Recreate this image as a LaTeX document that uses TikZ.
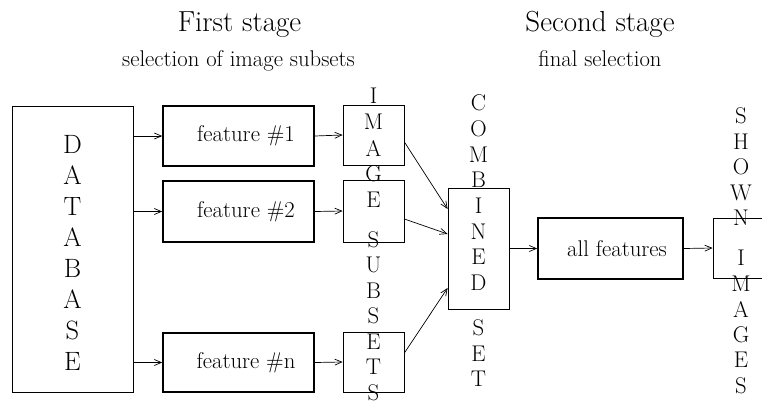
\documentclass[tikz,border=0pt]{standalone}
\usetikzlibrary{arrows.meta}
\begin{document}
\begin{tikzpicture}[x=1pt,y=-1pt,
  thinbox/.style={draw,line width=0.8pt,inner sep=0pt},
  thickbox/.style={draw,line width=1.6pt,inner sep=0pt,font=\fontsize{22.7}{27}\selectfont},
  arr/.style={line width=0.7pt,-{Straight Barb[length=7pt,width=6pt]}},
  vl/.style={inner sep=0pt,font=\fontsize{22.7}{27}\selectfont},
  dbl/.style={inner sep=0pt,font=\fontsize{26.5}{32}\selectfont},
  titlef/.style={anchor=base,inner sep=0pt,font=\fontsize{29}{35}\selectfont},
  subf/.style={anchor=base,inner sep=0pt,font=\fontsize{22.7}{27}\selectfont}]
\clip (0,0) rectangle (762,405);
\useasboundingbox (0,0) rectangle (762,405);

% titles
\node[titlef] (t1) at (239.5,31) {First stage};
\node[subf] (st1) at (238.5,66) {selection of image subsets};
\node[titlef] (t2) at (600,31) {Second stage};
\node[subf] (st2) at (600,66) {final selection};

% boxes
\node[thinbox,minimum width=121pt,minimum height=286pt] (db) at (72.5,249) {};
\node[thickbox,minimum width=151pt,minimum height=60pt] (f1) at (238.5,136) {\hspace*{15pt}feature \#1};
\node[thickbox,minimum width=151pt,minimum height=61pt] (f2) at (238.5,211.5) {\hspace*{15pt}feature \#2};
\node[thickbox,minimum width=151pt,minimum height=59pt] (fn) at (238.5,362.5) {\hspace*{15pt}feature \#n};
\node[thinbox,minimum width=61pt,minimum height=60pt] (s1) at (373.5,135) {};
\node[thinbox,minimum width=61pt,minimum height=62pt] (s2) at (373.5,211) {};
\node[thinbox,minimum width=61pt,minimum height=60pt] (s3) at (373.5,362) {};
\node[thinbox,minimum width=61pt,minimum height=121pt] (comb) at (478.5,248.5) {};
\node[thickbox,minimum width=145pt,minimum height=61pt] (all) at (610.5,248.5) {\hspace*{13pt}all features};
\node[thinbox,minimum width=90pt,minimum height=60pt] (shown) at (758,248) {};

% vertical texts
\foreach \l [count=\i from 0] in {D,A,T,A,B,A,S,E}
  \node[dbl] (db-\i) at (72.5,{144+31.1*\i}) {\l};
\foreach \l [count=\i from 0] in {I,M,A,G,E}
  \node[vl] (im-\i) at (373.5,{96+26*\i}) {\l};
\foreach \l [count=\i from 0] in {S,U,B,S,E,T,S}
  \node[vl] (su-\i) at (373.5,{240+25.4*\i}) {\l};
\foreach \l [count=\i from 0] in {C,O,M,B,I,N,E,D}
  \node[vl] (co-\i) at (478.5,{103+25.7*\i}) {\l};
\foreach \l [count=\i from 0] in {S,E,T}
  \node[vl] (se-\i) at (478.5,{328+25.5*\i}) {\l};
\foreach \l [count=\i from 0] in {S,H,O,W,N}
  \node[vl] (sh-\i) at (741,{116+25.5*\i}) {\l};
\foreach \l [count=\i from 0] in {I,M,A,G,E,S}
  \node[vl] (ig-\i) at (741,{258+25.5*\i}) {\l};

% connectors
\draw[arr] (db.east |- f1.west) -- (f1.west);
\draw[arr] (db.east |- f2.west) -- (f2.west);
\draw[arr] (db.east |- fn.west) -- (fn.west);
\draw[arr] (f1.east) -- (s1.west);
\draw[arr] (f2.east) -- (s2.west);
\draw[arr] (fn.east) -- (s3.west);
\draw[arr] ([yshift=-7pt]s1.east) -- ([yshift=39.5pt]comb.west);
\draw[arr] ([yshift=-8pt]s2.east) -- ([yshift=14.5pt]comb.west);
\draw[arr] ([yshift=9pt]s3.east) -- ([yshift=-39.5pt]comb.west);
\draw[arr] (comb.east) -- (all.west);
\draw[arr] (all.east) -- (shown.west);
\end{tikzpicture}
\end{document}
